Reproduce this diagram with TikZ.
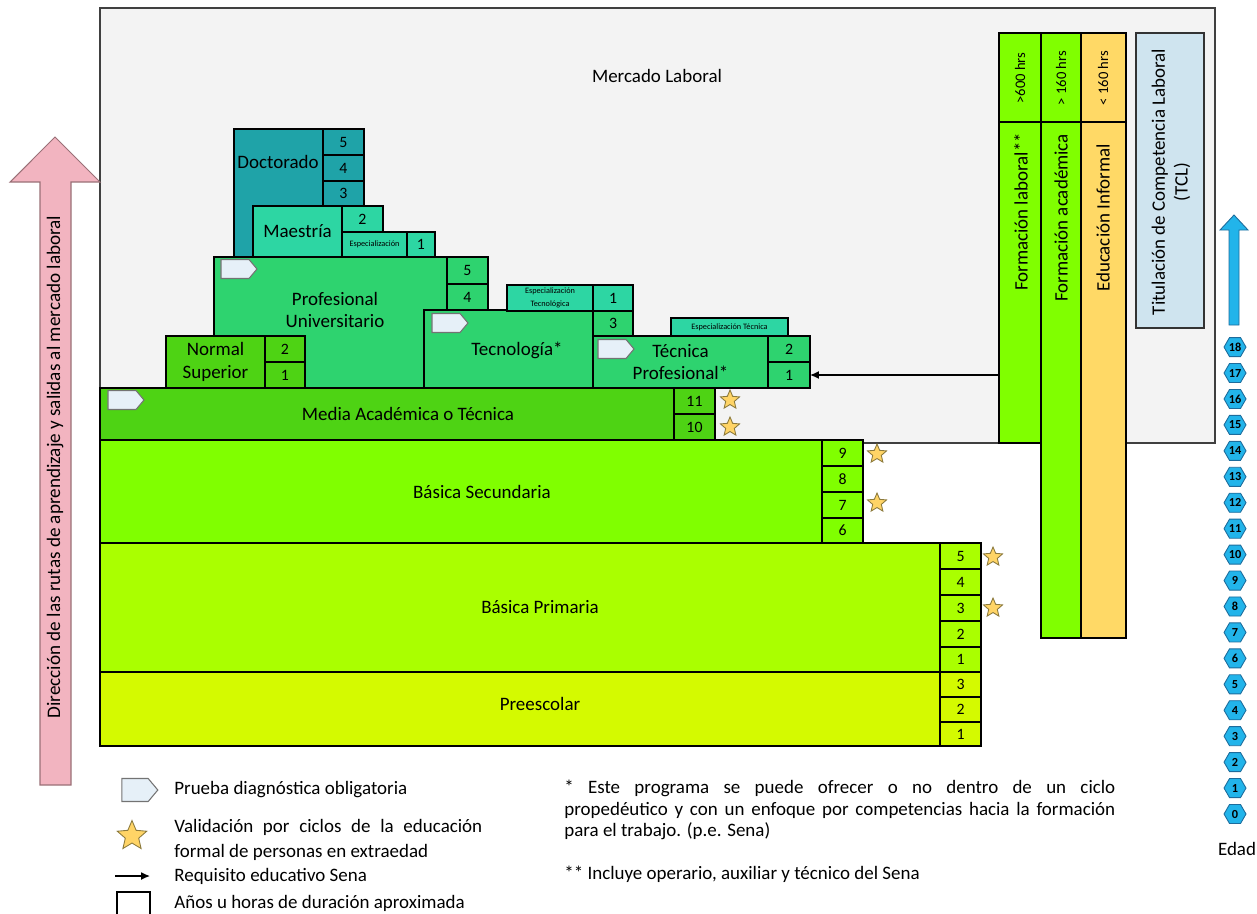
\documentclass[tikz,border=0pt]{standalone}
\usepackage{fontspec}
\setmainfont{Carlito}
\usetikzlibrary{shapes.geometric,shapes.symbols,arrows.meta,fit,calc}

\definecolor{fieldgray}{HTML}{F3F3F3}
\definecolor{preesc}{HTML}{D4FA00}
\definecolor{prim}{HTML}{AAFF00}
\definecolor{secun}{HTML}{80FF00}
\definecolor{media}{HTML}{4ED314}
\definecolor{prof}{HTML}{2ED36F}
\definecolor{espec}{HTML}{2DD6A3}
\definecolor{doct}{HTML}{1FA3A8}
\definecolor{informal}{HTML}{FFD966}
\definecolor{tcl}{HTML}{CFE4EF}
\definecolor{pinkarrow}{HTML}{F2B4C0}
\definecolor{pinkedge}{HTML}{9A7077}
\definecolor{agefill}{HTML}{22B4EA}
\definecolor{ageedge}{HTML}{1D6C9C}
\definecolor{starfill}{HTML}{FFD466}
\definecolor{staredge}{HTML}{8C7A3C}
\definecolor{pruebafill}{HTML}{E6F0F8}

\newcommand\lblfont{\fontsize{10.8}{12.9}\selectfont}
\newcommand\numfont{\fontsize{9}{10}\selectfont}
\newcommand\tinyfont{\fontsize{4.7}{7.2}\selectfont}
\newcommand\hrsfont{\fontsize{8.3}{10}\selectfont}

\tikzset{
  cellbox/.style={draw=black, line width=0.8pt, inner sep=0pt, outer sep=0pt, align=center, font=\numfont},
  lbl/.style={font=\lblfont, align=center, inner sep=0pt},
  hrs/.style={font=\hrsfont, inner sep=0pt, rotate=90},
  prueba/.style={signal, signal to=east, signal pointer angle=100, draw=black!55, fill=pruebafill,
    line width=0.6pt, minimum width=0.72cm, minimum height=0.38cm, inner sep=0pt},
  valstar/.style={star, star points=5, star point ratio=2.2, draw=staredge, fill=starfill,
    line width=0.5pt, minimum size=0.4cm, inner sep=0pt},
  agehex/.style={regular polygon, regular polygon sides=6, draw=ageedge, fill=agefill, line width=0.5pt,
    minimum size=0.44cm, inner sep=0pt, font=\fontsize{7}{8}\selectfont\bfseries},
  sena/.style={-{Latex[length=5pt,width=4.5pt]}, line width=0.8pt},
  legtxt/.style={font=\lblfont, inner sep=0pt}
}

% a filled box spanning two corners (x1,y1)--(x2,y2), text centred
\newcommand\blk[8][]{\node[cellbox, #1, fill=#7,
  minimum width={(#5-#3)*0.02cm}, minimum height={(#6-#4)*0.02cm}]
  (#2) at ({(#3+#5)/2},{(#4+#6)/2}) {#8};}

\begin{document}
\hyphenpenalty=10000
\exhyphenpenalty=10000
\begin{tikzpicture}[x=0.02cm, y=-0.02cm]
\useasboundingbox (0,0) rectangle (1257,913);

% labour market field
\node[fit={(100,8) (1215,443)}, draw=black!75, fill=fieldgray, line width=0.8pt, inner sep=0pt] (mercado) {};
\node[lbl] (mercadot) at (657,76) {Mercado Laboral};

% direction arrow
\path[draw=pinkedge, fill=pinkarrow, line width=0.6pt]
  (40,785) -- (40,182) -- (10,182) -- (55,137) -- (100,182) -- (71,182) -- (71,785) -- cycle;
\node[lbl, rotate=90, font=\fontsize{10.9}{12}\selectfont] (direccion) at (55,467)
  {Dirección de las rutas de aprendizaje y salidas al mercado laboral};

% doctorate and masters
\blk{doc}{234}{129}{323}{257}{doct}{}
\node[lbl] (doct) at (278,162) {Doctorado};
\blk{doc5}{323}{129}{364}{155}{doct}{5}
\blk{doc4}{323}{155}{364}{181}{doct}{4}
\blk{doc3}{323}{181}{364}{206}{doct}{3}
\blk[font=\lblfont]{mae}{253}{206}{342}{257}{espec}{Maestría}
\blk{mae2}{342}{206}{383}{232}{espec}{2}
\blk[font=\tinyfont]{esp}{342}{232}{407}{257}{espec}{Especialización}
\blk{esp1}{407}{232}{435}{257}{espec}{1}

% university level
\blk{prof}{214}{257}{447}{388}{prof}{}
\node[lbl] (proft) at (335,310) {Profesional\\Universitario};
\blk{prof5}{447}{257}{488}{284}{prof}{5}
\blk{prof4}{447}{284}{488}{310}{prof}{4}
\node[prueba] (pprof) at (235,269) {};

\blk[font=\lblfont]{nor}{166}{336}{265}{388}{media}{Normal\\Superior}
\blk{nor2}{265}{336}{305}{362}{media}{2}
\blk{nor1}{265}{362}{305}{388}{media}{1}

\blk{tec}{424}{310}{593}{388}{prof}{}
\node[lbl] (tect) at (517,350) {Tecnología*};
\node[prueba] (ptec) at (446,323) {};
\blk[font=\tinyfont]{esptec}{507}{285}{593}{311}{espec}{Especialización\\Tecnológica}
\blk{esptec1}{593}{285}{633}{311}{espec}{1}
\blk{tec3}{593}{311}{633}{336}{prof}{3}

\blk[font=\tinyfont]{espt}{671}{318}{788}{336}{espec}{Especialización Técnica}
\blk[font=\lblfont]{tp}{593}{336}{768}{388}{prof}{Técnica\\Profesional*}
\blk{tp2}{768}{336}{810}{362}{prof}{2}
\blk{tp1}{768}{362}{810}{388}{prof}{1}
\node[prueba] (ptp) at (612,349) {};

% school levels
\blk{med}{100}{388}{674}{440}{media}{}
\node[lbl] (medt) at (408,414) {Media Académica o Técnica};
\node[prueba] (pmed) at (122,400) {};
\blk{med11}{674}{388}{715}{414}{media}{11}
\blk{med10}{674}{414}{715}{440}{media}{10}

\blk{sec}{100}{440}{822}{543}{secun}{}
\node[lbl] (sect) at (482,492) {Básica Secundaria};
\blk{sec9}{822}{440}{863}{466}{secun}{9}
\blk{sec8}{822}{466}{863}{492}{secun}{8}
\blk{sec7}{822}{492}{863}{518}{secun}{7}
\blk{sec6}{822}{518}{863}{543}{secun}{6}

\blk{pri}{100}{543}{940}{672}{prim}{}
\node[lbl] (prit) at (540,607) {Básica Primaria};
\blk{pri5}{940}{543}{981}{569}{prim}{5}
\blk{pri4}{940}{569}{981}{595}{prim}{4}
\blk{pri3}{940}{595}{981}{621}{prim}{3}
\blk{pri2}{940}{621}{981}{647}{prim}{2}
\blk{pri1}{940}{647}{981}{672}{prim}{1}

\blk{pre}{100}{672}{940}{746}{preesc}{}
\node[lbl] (pret) at (540,704) {Preescolar};
\blk{pre3}{940}{672}{981}{697}{preesc}{3}
\blk{pre2}{940}{697}{981}{722}{preesc}{2}
\blk{pre1}{940}{722}{981}{746}{preesc}{1}

% validation stars
\node[valstar] (s11) at (730,400) {};
\node[valstar] (s10) at (730,427) {};
\node[valstar] (s9) at (877,454) {};
\node[valstar] (s7) at (877,503) {};
\node[valstar] (s5) at (993,557) {};
\node[valstar] (s3) at (993,608) {};

% non-formal training columns
\blk{flabh}{999}{33}{1041}{122}{secun}{}
\blk{flab}{999}{122}{1041}{443}{secun}{}
\blk{facah}{1041}{33}{1081}{122}{secun}{}
\blk{faca}{1041}{122}{1081}{638}{secun}{}
\blk{finfh}{1081}{33}{1126}{122}{informal}{}
\blk{finf}{1081}{122}{1126}{638}{informal}{}
\node[hrs] (flabht) at (1020,78) {>600 hrs};
\node[hrs] (facaht) at (1061,78) {> 160 hrs};
\node[hrs] (finfht) at (1103,78) {< 160 hrs};
\node[lbl, rotate=90] (flabt) at (1021,212) {Formación laboral**};
\node[lbl, rotate=90] (facat) at (1061,218) {Formación académica};
\node[lbl, rotate=90] (finft) at (1103,218) {Educación Informal};
\node[fit={(1136,33) (1204,328)}, draw=black!80, fill=tcl, line width=0.8pt, inner sep=0pt] (tclb) {};
\node[lbl, rotate=90] (tclt) at (1171,182) {Titulación de Competencia Laboral\\(TCL)};

% Sena requirement
\draw[sena] (flab.west |- tp1.east) -- (tp1.east);

% age scale
\path[draw=ageedge, fill=agefill, line width=0.5pt]
  (1229,325) -- (1229,230) -- (1220,230) -- (1234,215) -- (1248,230) -- (1239,230) -- (1239,325) -- cycle;
\foreach \a in {0,...,18}
  \node[agehex] (age\a) at (1235,{814-25.94*\a}) {\a};
\node[legtxt] (edad) at (1237,849) {Edad};

% legend
\node[prueba, minimum height=0.46cm] (legp) at (135,790) {};
\node[legtxt, anchor=west] (legpt) at (174,790) {Prueba diagnóstica obligatoria};
\node[valstar, minimum size=0.62cm] (legs) at (132,836) {};
\node[legtxt, anchor=north west, text width=6.16cm, align=justify,
  font=\fontsize{10.8}{14.2}\selectfont] (legst) at (174,819)
  {Validación por ciclos de la educación\linebreak formal de personas en extraedad};
\coordinate (legaa) at (115,876);
\coordinate (legab) at (150,876);
\draw[sena] (legaa) -- (legab);
\node[legtxt, anchor=west] (legat) at (174,876) {Requisito educativo Sena};
\begin{scope}
  \clip (0,0) rectangle (1257,913);
  \node[fit={(117,892) (150,930)}, draw=black, line width=0.8pt, inner sep=0pt] (legbox) {};
\end{scope}
\node[legtxt, anchor=west] (legbt) at (174,903) {Años u horas de duración aproximada};

\node[legtxt, anchor=north west, text width=11.02cm, align=justify,
  font=\fontsize{10.8}{12.2}\selectfont] (note1) at (564,780)
  {* Este programa se puede ofrecer o no dentro de un ciclo\linebreak propedéutico y con un enfoque por competencias hacia la formación\linebreak para el trabajo. (p.e. Sena)};
\node[legtxt, anchor=west] (note2) at (564,874) {** Incluye operario, auxiliar y técnico del Sena};

\end{tikzpicture}
\end{document}
